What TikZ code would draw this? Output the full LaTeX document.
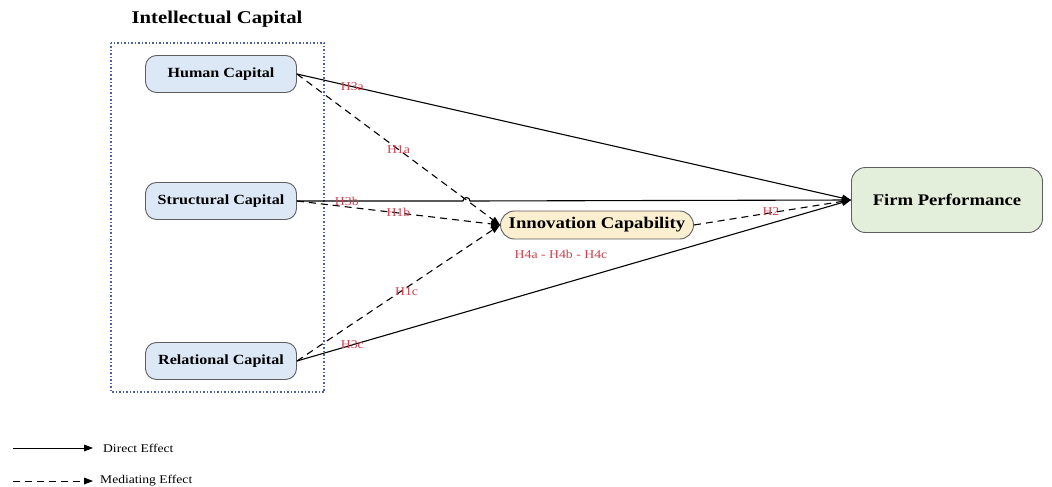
\documentclass[tikz,border=0pt]{standalone}
\usepackage{fontspec}
\setmainfont[FakeStretch=1.15]{Liberation Serif}
\usetikzlibrary{arrows.meta,calc}
\definecolor{capfill}{HTML}{DCE8F5}
\definecolor{innofill}{HTML}{FBEFCF}
\definecolor{perffill}{HTML}{E3EFDA}
\definecolor{nodeedge}{HTML}{5E5E5E}
\definecolor{hypred}{HTML}{D0404F}
\definecolor{groupblue}{HTML}{4A60A8}
\tikzset{
  capbox/.style={draw=nodeedge, fill=capfill, rounded corners=11pt, line width=0.9pt,
    minimum width=151pt, minimum height=37pt, inner sep=0pt,
    font=\fontsize{14}{16}\selectfont\bfseries},
  innobox/.style={draw=nodeedge, fill=innofill, rounded corners=14pt, line width=0.9pt,
    minimum width=193pt, minimum height=28pt, inner sep=0pt,
    font=\fontsize{16.3}{18}\selectfont\bfseries},
  perfbox/.style={draw=nodeedge, fill=perffill, rounded corners=14pt, line width=0.9pt,
    minimum width=191pt, minimum height=65pt, inner sep=0pt,
    font=\fontsize{16.2}{18}\selectfont\bfseries},
  direct/.style={line width=1.1pt, -{Kite[length=9pt,width=7pt,inset=0pt]}},
  mediating/.style={line width=1.1pt, dash pattern=on 7pt off 5pt,
    -{Kite[length=9pt,width=7pt,inset=0pt]}},
  hyp/.style={text=hypred, font=\fontsize{12}{14}\selectfont, inner sep=1pt},
  legendtext/.style={font=\fontsize{11.8}{13}\selectfont, anchor=west, inner sep=0pt},
}
\begin{document}
\begin{tikzpicture}[x=1pt,y=1pt]
\useasboundingbox (0,0) rectangle (1052,-487);

% intellectual capital group
\node[font=\fontsize{18}{20}\selectfont\bfseries] (ictitle) at (217,-19) {Intellectual Capital};
\draw[groupblue, line width=1.5pt, dash pattern=on 1.5pt off 2pt]
  (111,-43) rectangle (324,-392);

% constructs
\node[capbox] (hc) at (221,-74) {Human Capital};
\node[capbox] (sc) at (221,-201) {Structural Capital};
\node[capbox] (rc) at (221,-361) {Relational Capital};
\node[innobox] (ic) at (597,-225) {Innovation Capability};
\node[perfbox] (fp) at (947,-200) {Firm Performance};

% mediating paths
\draw[mediating] (hc.east) -- node[hyp, pos=0.5] (h1a) {H1a} (ic.west);
\draw[mediating] (sc.east) -- node[hyp, pos=0.5, yshift=1pt] (h1b) {H1b} (ic.west);
\draw[mediating] (rc.east) -- node[hyp, pos=0.54, yshift=-4pt] (h1c) {H1c} (ic.west);
\draw[mediating] (ic.east) -- node[hyp, pos=0.49, yshift=1pt] (h2) {H2} (fp.west);

% direct paths
\draw[direct] (hc.east) -- node[hyp, pos=0.1] (h3a) {H3a} (fp.west);
\coordinate (hop) at (466.5,-201);
\draw[direct] (sc.east) -- node[hyp, pos=0.3] (h3b) {H3b} ([xshift=-3.5pt]hop)
  arc[start angle=180, end angle=0, radius=3.5pt] -- (fp.west);
\draw[direct] (rc.east) -- node[hyp, pos=0.1] (h3c) {H3c} (fp.west);

\node[hyp] (h4) at (561,-254) {H4a - H4b - H4c};

% legend
\coordinate (ld0) at (13,-448);
\coordinate (ld1) at (93,-448);
\coordinate (lm0) at (13,-481);
\coordinate (lm1) at (93,-481);
\draw[direct, line width=1pt] (ld0) -- (ld1);
\draw[mediating, line width=1pt] (lm0) -- (lm1);
\node[legendtext] (ldt) at (103,-448) {Direct Effect};
\node[legendtext] (lmt) at (100,-481) {Mediating Effect};
\end{tikzpicture}
\end{document}
